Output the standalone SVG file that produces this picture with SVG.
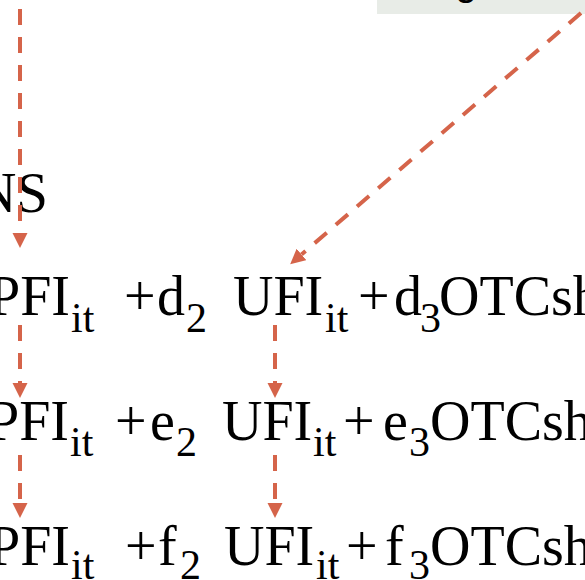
<svg xmlns="http://www.w3.org/2000/svg" width="585" height="580" viewBox="0 0 585 580">
<style>
.eq{font-family:"Liberation Serif","Times New Roman",serif;font-size:56px;fill:#000}
.sub{font-family:"Liberation Serif","Times New Roman",serif;font-size:42px;fill:#000}
.hd{font-family:"Liberation Serif","Times New Roman",serif;font-size:57px;fill:#000}
.conn{fill:none;stroke:#d5644a;stroke-width:4;stroke-dasharray:16 12}
</style>
<defs>
<marker id="ah" markerUnits="userSpaceOnUse" markerWidth="16" markerHeight="16" refX="0" refY="7.5" orient="auto">
<path d="M0,0 L15,7.5 L0,15 z" fill="#d5644a"/>
</marker>
</defs>
<g id="box">
<rect x="377" y="-20" width="210" height="34" fill="#e8ece7"/>
<text x="455" y="-5.5" style="font-family:'Liberation Sans',Arial,sans-serif;font-size:40px">g</text>
</g>
<g id="heading">
<text class="hd" x="48" y="212" text-anchor="end">NS</text>
</g>
<g id="eq1">
<text class="eq" x="70" y="315" text-anchor="end">PFI</text>
<text class="sub" x="71" y="332">it</text>
<text class="eq" x="124" y="315">+</text>
<text class="eq" x="157" y="315">d</text>
<text class="sub" x="186" y="332">2</text>
<text class="eq" x="233" y="315">UFI</text>
<text class="sub" x="325" y="332">it</text>
<text class="eq" x="358" y="315">+</text>
<text class="eq" x="394" y="315">d</text>
<text class="sub" x="420" y="332">3</text>
<text class="eq" x="439" y="315">OTCsh</text>
</g>
<g id="eq2">
<text class="eq" x="69" y="440" text-anchor="end">PFI</text>
<text class="sub" x="70" y="456">it</text>
<text class="eq" x="115" y="440">+</text>
<text class="eq" x="150" y="440">e</text>
<text class="sub" x="176" y="456">2</text>
<text class="eq" x="222" y="440">UFI</text>
<text class="sub" x="313" y="456">it</text>
<text class="eq" x="343" y="440">+</text>
<text class="eq" x="383" y="440">e</text>
<text class="sub" x="409" y="456">3</text>
<text class="eq" x="430" y="440">OTCsh</text>
</g>
<g id="eq3">
<text class="eq" x="70" y="565" text-anchor="end">PFI</text>
<text class="sub" x="71" y="579">it</text>
<text class="eq" x="125" y="565">+</text>
<text class="eq" x="158" y="565">f</text>
<text class="sub" x="180" y="579">2</text>
<text class="eq" x="224" y="565">UFI</text>
<text class="sub" x="316" y="579">it</text>
<text class="eq" x="346" y="565">+</text>
<text class="eq" x="385" y="565">f</text>
<text class="sub" x="409" y="579">3</text>
<text class="eq" x="430" y="565">OTCsha</text>
</g>
<g id="connectors">
<line class="conn" x1="20" y1="9" x2="20" y2="233" marker-end="url(#ah)"/>
<line class="conn" x1="581" y1="13" x2="301.5" y2="254.5" marker-end="url(#ah)"/>
<line class="conn" x1="20" y1="325" x2="20" y2="383" marker-end="url(#ah)"/>
<line class="conn" x1="275" y1="325" x2="275" y2="383" marker-end="url(#ah)"/>
<line class="conn" x1="20" y1="455" x2="20" y2="503" marker-end="url(#ah)"/>
<line class="conn" x1="275" y1="455" x2="275" y2="503" marker-end="url(#ah)"/>
</g>
</svg>
